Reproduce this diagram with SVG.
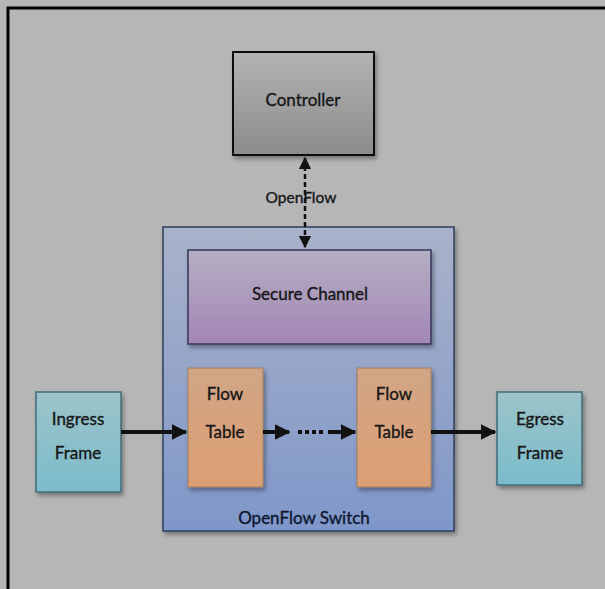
<svg xmlns="http://www.w3.org/2000/svg" width="605" height="589" viewBox="0 0 605 589">
<defs>
<linearGradient id="gCtrl" x1="0" y1="0" x2="0" y2="1"><stop offset="0" stop-color="#b3b3b3"/><stop offset="1" stop-color="#8c8c8c"/></linearGradient>
<linearGradient id="gSw" x1="0" y1="0" x2="0" y2="1"><stop offset="0" stop-color="#a9b2c9"/><stop offset="1" stop-color="#7f97c9"/></linearGradient>
<linearGradient id="gSec" x1="0" y1="0" x2="0" y2="1"><stop offset="0" stop-color="#b5afc2"/><stop offset="1" stop-color="#a386b6"/></linearGradient>
<linearGradient id="gFt" x1="0" y1="0" x2="0" y2="1"><stop offset="0" stop-color="#d1a585"/><stop offset="1" stop-color="#dd9f74"/></linearGradient>
<linearGradient id="gFr" x1="0" y1="0" x2="0" y2="1"><stop offset="0" stop-color="#9cc4c9"/><stop offset="1" stop-color="#7bbccb"/></linearGradient>
<filter id="sh" x="-10%" y="-10%" width="130%" height="130%"><feDropShadow dx="2" dy="3" stdDeviation="2" flood-color="#000" flood-opacity="0.35"/></filter>
<marker id="ah" viewBox="0 0 10 10" refX="9" refY="5" markerWidth="4" markerHeight="4" orient="auto-start-reverse" markerUnits="strokeWidth"><path d="M0,0 L10,5 L0,10 z" fill="#111"/></marker>
<marker id="ahs" viewBox="0 0 10 10" refX="9" refY="5" markerWidth="5" markerHeight="5" orient="auto-start-reverse" markerUnits="strokeWidth"><path d="M0,0 L10,5 L0,10 z" fill="#111"/></marker>
</defs>
<style>
text{font-family:Lato,"Open Sans","Liberation Sans",sans-serif;fill:#161616;stroke:#161616;stroke-width:0.35;text-anchor:middle;}
.lbl{font-size:17px;}
.flow{stroke:#111;stroke-width:4;fill:none;}
</style>
<rect x="0" y="0" width="605" height="589" fill="#b6b6b6"/>
<path d="M8,589 V8 H605" fill="none" stroke="#000" stroke-width="3"/>

<g id="switch">
<rect x="163" y="227" width="291" height="304" fill="url(#gSw)" stroke="#2e3d5c" stroke-width="1.5" filter="url(#sh)"/>
<text class="lbl" x="304" y="524" style="fill:#0f1730;stroke:#0f1730">OpenFlow Switch</text>
</g>
<g id="controller">
<rect x="233" y="52" width="141" height="103" fill="url(#gCtrl)" stroke="#111" stroke-width="2" filter="url(#sh)"/>
<text class="lbl" x="303" y="106">Controller</text>
</g>
<g id="secure-channel">
<rect x="188" y="250" width="243" height="94" fill="url(#gSec)" stroke="#35355a" stroke-width="1.5" filter="url(#sh)"/>
<text class="lbl" x="310" y="300">Secure Channel</text>
</g>
<g id="flow-table-1">
<rect x="188" y="368" width="75" height="119" fill="url(#gFt)" stroke="#a07c5c" stroke-width="1" filter="url(#sh)"/>
<text class="lbl" x="225" y="400">Flow</text>
<text class="lbl" x="225" y="438">Table</text>
</g>
<g id="flow-table-2">
<rect x="357" y="368" width="74" height="119" fill="url(#gFt)" stroke="#a07c5c" stroke-width="1" filter="url(#sh)"/>
<text class="lbl" x="394" y="400">Flow</text>
<text class="lbl" x="394" y="438">Table</text>
</g>
<g id="ingress-frame">
<rect x="36" y="392" width="85" height="100" fill="url(#gFr)" stroke="#3f6e78" stroke-width="1.5" filter="url(#sh)"/>
<text class="lbl" x="78" y="425">Ingress</text>
<text class="lbl" x="78" y="459">Frame</text>
</g>
<g id="egress-frame">
<rect x="497" y="392" width="85" height="93" fill="url(#gFr)" stroke="#3f6e78" stroke-width="1.5" filter="url(#sh)"/>
<text class="lbl" x="540" y="425">Egress</text>
<text class="lbl" x="540" y="459">Frame</text>
</g>

<g id="connectors">
<line x1="305" y1="158" x2="305" y2="247" stroke="#111" stroke-width="2.5" stroke-dasharray="5,3" marker-start="url(#ahs)" marker-end="url(#ahs)"/>
<text class="lbl" x="301" y="203" style="font-size:15.5px">OpenFlow</text>
<line class="flow" x1="121" y1="432" x2="186" y2="432" marker-end="url(#ah)"/>
<line class="flow" x1="263" y1="432" x2="289" y2="432" marker-end="url(#ah)"/>
<line x1="298" y1="432" x2="323" y2="432" stroke="#111" stroke-width="4" stroke-dasharray="4,3"/>
<line class="flow" x1="328" y1="432" x2="355" y2="432" marker-end="url(#ah)"/>
<line class="flow" x1="431" y1="432" x2="495" y2="432" marker-end="url(#ah)"/>
</g>
</svg>
